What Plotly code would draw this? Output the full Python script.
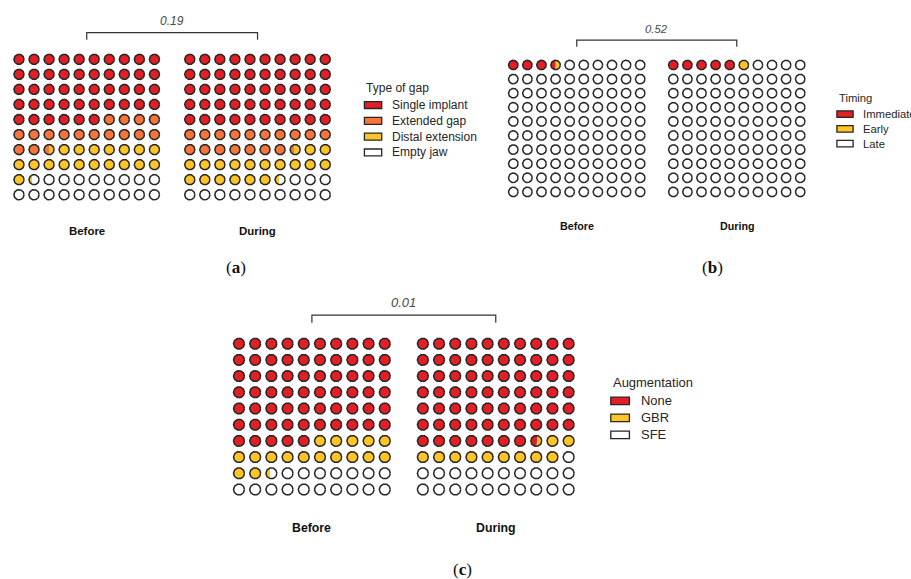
import numpy as np
import plotly.graph_objects as go

# ---- data (percent of implants, 100 cells per waffle) ----
period_labels = ["Before", "During"]

gap_labels = ["Single implant", "Extended gap", "Distal extension", "Empty jaw"]
gap_before = [46.0, 16.5, 18.8, 18.7]
gap_during = [50.0, 17.4, 19.0, 13.6]

timing_labels = ["Immediate", "Early", "Late"]
timing_before = [3.5, 0.5, 96.0]
timing_during = [5.0, 1.0, 94.0]

aug_labels = ["None", "GBR", "SFE"]
aug_before = [65.0, 17.4, 17.6]
aug_during = [67.6, 11.4, 21.0]

p_values = ["0.19", "0.52", "0.01"]
legend_titles = ["Type of gap", "Timing", "Augmentation"]
panel_tags = ["a", "b", "c"]

# ---- styling ----
RED, ORANGE, YELLOW, WHITE = "#E31E24", "#F7743B", "#FFC425", "#FFFFFF"
gap_colors = [RED, ORANGE, YELLOW, WHITE]
timing_colors = [RED, YELLOW, WHITE]
aug_colors = [RED, YELLOW, WHITE]
EDGE = "#262626"
TEXT = "#262626"

W, H = 911, 579
NCOL = 10
GAP = 11.35          # column offset of the second waffle
R = 0.335            # circle radius in cell units

# pixel placement of each panel: first cell centre (x, y) and cell pitch
panel_geom = [(19.0, 59.3, 15.05), (513.3, 65.0, 14.1), (239.0, 343.7, 16.2)]
legend_first_row = [3.04, 3.48, 3.53]
tag_pos = [(236, 268), (712, 268), (462, 569)]

panels = [
    (gap_labels, gap_colors, [gap_before, gap_during]),
    (timing_labels, timing_colors, [timing_before, timing_during]),
    (aug_labels, aug_colors, [aug_before, aug_during]),
]


def circle_slice(cx, cy, r, f0, f1, n=40):
    """Polygon for the part of a circle between horizontal fractions f0..f1."""
    xa = cx - r + 2 * r * f0
    xb = cx - r + 2 * r * f1
    ta = np.arccos(np.clip((xa - cx) / r, -1, 1))
    tb = np.arccos(np.clip((xb - cx) / r, -1, 1))
    t = np.linspace(ta, tb, n)
    xs = np.concatenate([cx + r * np.cos(t), cx + r * np.cos(t[::-1])])
    ys = np.concatenate([cy - r * np.sin(t), cy + r * np.sin(t[::-1])])
    return list(xs) + [xs[0], None], list(ys) + [ys[0], None]


fig = go.Figure()
annotations = []
shapes = []

for p, (labels, colors, series) in enumerate(panels):
    ax = "" if p == 0 else str(p + 1)
    xref, yref = "x" + ax, "y" + ax
    x0, y0, pitch = panel_geom[p]
    fs = 0.8 * pitch

    seg_x = [[] for _ in labels]
    seg_y = [[] for _ in labels]
    out_x, out_y = [], []
    for g, values in enumerate(series):
        bounds = np.concatenate([[0.0], np.cumsum(values)])
        for k in range(100):
            col, row = k % NCOL, k // NCOL
            cx = col + g * GAP
            cy = row
            for i in range(len(labels)):
                lo = max(bounds[i], k)
                hi = min(bounds[i + 1], k + 1)
                if hi - lo > 1e-9:
                    sx, sy = circle_slice(cx, cy, R, lo - k, hi - k)
                    seg_x[i] += sx
                    seg_y[i] += sy
            t = np.linspace(0, 2 * np.pi, 60)
            out_x += list(cx + R * np.cos(t)) + [None]
            out_y += list(cy + R * np.sin(t)) + [None]

    for i, lab in enumerate(labels):
        fig.add_trace(go.Scatter(
            x=seg_x[i], y=seg_y[i], mode="lines", fill="toself",
            fillcolor=colors[i], line=dict(width=0, color=colors[i]),
            name=lab, showlegend=False, hoverinfo="skip",
            xaxis=xref, yaxis=yref))
    fig.add_trace(go.Scatter(
        x=out_x, y=out_y, mode="lines", line=dict(color=EDGE, width=1.5),
        showlegend=False, hoverinfo="skip", xaxis=xref, yaxis=yref))

    # significance bracket between the two waffles
    c1 = (NCOL - 1) / 2
    c2 = c1 + GAP
    fig.add_trace(go.Scatter(
        x=[c1, c1, c2, c2], y=[-1.3, -1.77, -1.77, -1.3], mode="lines",
        line=dict(color="#333333", width=1.2), showlegend=False,
        hoverinfo="skip", xaxis=xref, yaxis=yref))
    annotations.append(dict(
        x=(c1 + c2) / 2, y=-2.57, xref=xref, yref=yref, text=f"<i>{p_values[p]}</i>",
        showarrow=False, font=dict(size=fs, color="#4a4a4a"),
        xanchor="center", yanchor="middle"))

    for g, lab in enumerate(period_labels):
        annotations.append(dict(
            x=c1 + g * GAP, y=11.4, xref=xref, yref=yref, text=f"<b>{lab}</b>",
            showarrow=False, font=dict(size=0.76 * pitch, color="#111111"),
            xanchor="center", yanchor="middle"))

    # legend
    first = legend_first_row[p]
    step = 1.05
    annotations.append(dict(
        x=22.95, y=first - 1.15, xref=xref, yref=yref, text=legend_titles[p],
        showarrow=False, font=dict(size=fs, color=TEXT),
        xanchor="left", yanchor="middle"))
    for i, lab in enumerate(labels):
        yy = first + i * step
        shapes.append(dict(
            type="rect", xref=xref, yref=yref, x0=22.95, x1=24.1,
            y0=yy - 0.23, y1=yy + 0.23, fillcolor=colors[i],
            line=dict(color=EDGE, width=1.3)))
        annotations.append(dict(
            x=24.67, y=yy, xref=xref, yref=yref, text=lab, showarrow=False,
            font=dict(size=fs, color=TEXT), xanchor="left", yanchor="middle"))

    # sub-figure tag
    tx, ty = tag_pos[p]
    annotations.append(dict(
        x=tx / W, y=1 - ty / H, xref="paper", yref="paper",
        text=f"(<b>{panel_tags[p]}</b>)", showarrow=False,
        font=dict(size=17, color="#111111", family="Liberation Serif, serif"),
        xanchor="center", yanchor="middle"))

    axis_common = dict(visible=False, showgrid=False, zeroline=False,
                       fixedrange=True, domain=[0, 1])
    fig.layout["xaxis" + ax] = dict(
        axis_common, range=[(0 - x0) / pitch, (W - x0) / pitch],
        anchor="y" + ax)
    fig.layout["yaxis" + ax] = dict(
        axis_common, range=[(H - y0) / pitch, (0 - y0) / pitch],
        anchor="x" + ax)

fig.update_layout(
    width=W, height=H, margin=dict(l=0, r=0, t=0, b=0),
    paper_bgcolor="white", plot_bgcolor="rgba(0,0,0,0)",
    font=dict(family="Liberation Sans, Arial, sans-serif", color=TEXT),
    annotations=annotations, shapes=shapes, showlegend=False)

fig.write_html("out.html")
